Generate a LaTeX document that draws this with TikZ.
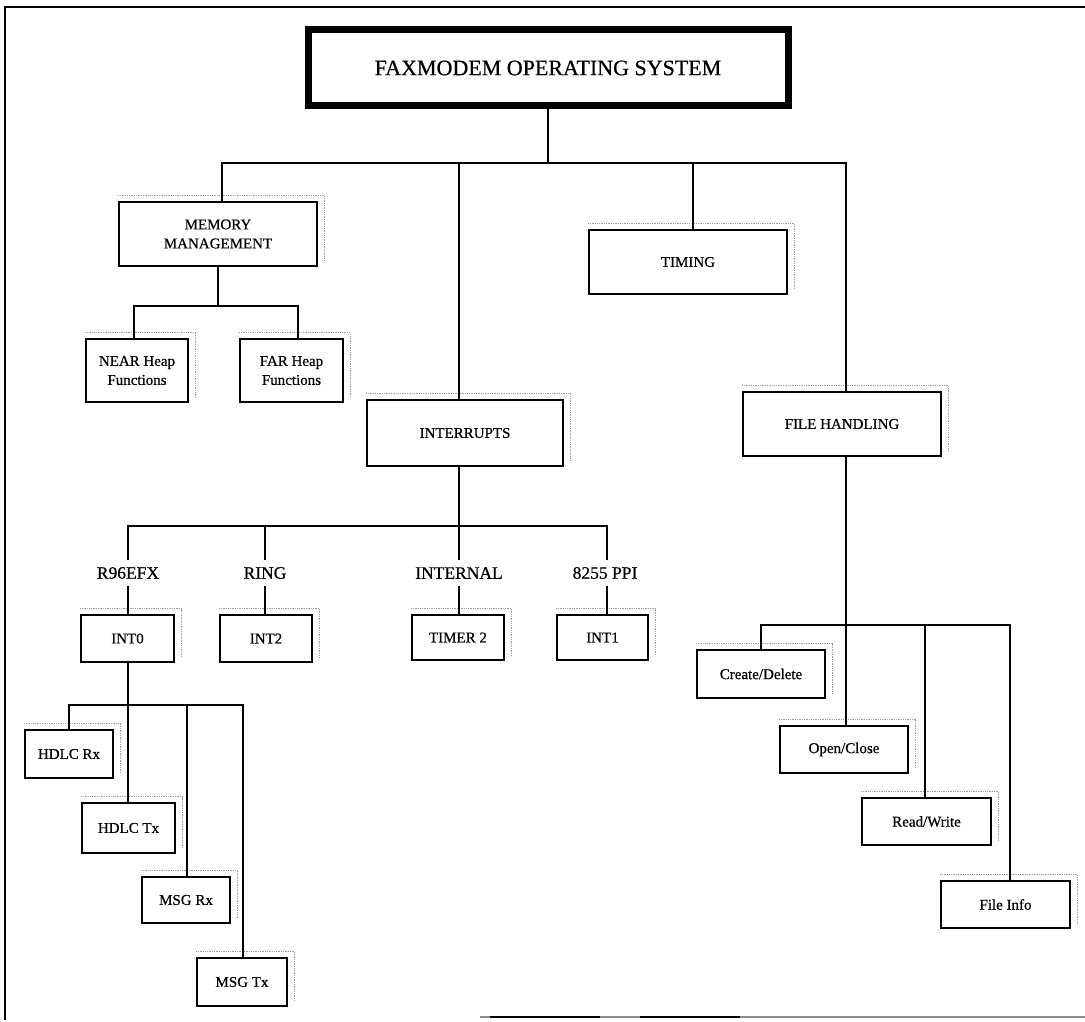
\documentclass[tikz,border=0pt]{standalone}
\usepackage{fontspec}
\setmainfont{Liberation Serif}[FakeBold=0.6]
\begin{document}
\begin{tikzpicture}[x=1pt,y=-1pt,
  box/.style={draw, line width=2.8pt, inner sep=0pt, align=center,
              font=\fontsize{15}{19}\selectfont},
  titlebox/.style={draw, line width=7pt, inner sep=0pt,
              font=\fontsize{22}{26}\selectfont},
  lbl/.style={inner sep=0pt, minimum height=25pt,
              font=\fontsize{17.5}{20}\selectfont},
  wire/.style={line width=2.6pt},
  halo/.style={draw=black!38, line width=1.3pt, densely dotted},
  frame/.style={line width=1.8pt}]

\useasboundingbox (0,0) rectangle (1085,1022);

% page frame
\draw[frame] (1085,7) -- (5,7) -- (5,1020);
\draw[frame, black!45] (480,1017) -- (1085,1017);
\draw[frame] (490,1017) -- (600,1017) (640,1017) -- (740,1017);

% title
\node[titlebox, minimum width=480pt, minimum height=76pt] (title) at (548,68)
  {FAXMODEM OPERATING SYSTEM};

% first level
\node[box, minimum width=198pt, minimum height=64pt] (mm)  at (218,234) {MEMORY\\MANAGEMENT};
\node[box, minimum width=198pt, minimum height=64pt] (tim) at (688,262) {TIMING};
\node[box, minimum width=196pt, minimum height=66pt] (int) at (465,433) {INTERRUPTS};
\node[box, minimum width=198pt, minimum height=64pt] (fh)  at (842,424) {FILE HANDLING};

% memory management
\node[box, minimum width=102pt, minimum height=63pt] (near) at (137,370.5) {NEAR Heap\\Functions};
\node[box, minimum width=103pt, minimum height=63pt] (far)  at (291.5,370.5) {FAR Heap\\Functions};

% interrupt sources
\node[lbl] (r96)      at (128,573) {R96EFX};
\node[lbl] (ring)     at (265,573) {RING};
\node[lbl] (internal) at (459,573) {INTERNAL};
\node[lbl] (ppi)      at (605,573) {8255 PPI};

\node[box, minimum width=93pt, minimum height=47pt] (int0) at (127.5,638.5) {INT0};
\node[box, minimum width=92pt, minimum height=47pt] (int2) at (266,638.5) {INT2};
\node[box, minimum width=92pt, minimum height=45pt] (tmr)  at (458,637.5) {TIMER 2};
\node[box, minimum width=91pt, minimum height=45pt] (int1) at (602.5,637.5) {INT1};

% INT0 handlers
\node[box, minimum width=88pt, minimum height=48pt] (hrx) at (69,754) {HDLC Rx};
\node[box, minimum width=93pt, minimum height=50pt] (htx) at (128.5,828) {HDLC Tx};
\node[box, minimum width=88pt, minimum height=46pt] (mrx) at (186,900) {MSG Rx};
\node[box, minimum width=90pt, minimum height=48pt] (mtx) at (242,982) {MSG Tx};

% file handling
\node[box, minimum width=128pt, minimum height=48pt] (cd) at (761,674) {Create/Delete};
\node[box, minimum width=128pt, minimum height=47pt] (oc) at (844,749.5) {Open/Close};
\node[box, minimum width=129pt, minimum height=47pt] (rw) at (926.5,821.5) {Read/Write};
\node[box, minimum width=129pt, minimum height=47pt] (fi) at (1005.5,904.5) {File Info};

% faint copy halo along the top and right of each box
\foreach \n in {mm,tim,int,fh,near,far,int0,int2,tmr,int1,hrx,htx,mrx,mtx,cd,oc,rw,fi}
  \draw[halo] ([shift={(0,-5)}]\n.north west) -- ([shift={(6,-5)}]\n.north east)
              -- ([shift={(6,-6)}]\n.south east);

% bus junctions
\coordinate (t1) at (222,163); \coordinate (t2) at (459,163);
\coordinate (t3) at (693,163); \coordinate (t4) at (846,163);
\coordinate (jn) at (134,306); \coordinate (jf) at (298,306);
\coordinate (i1) at (128,526); \coordinate (i2) at (265,526);
\coordinate (i3) at (459,526); \coordinate (i4) at (607,526);
\coordinate (c1) at (69,705);  \coordinate (c2) at (128,705);
\coordinate (c3) at (187,705); \coordinate (c4) at (243,705);
\coordinate (f1) at (761,625); \coordinate (f2) at (846,625);
\coordinate (f3) at (925,625); \coordinate (f4) at (1010,625);

% top level
\draw[wire] (title.south) -- (title.south |- t1);
\draw[wire] (t1 |- mm.north) -- (t1) -- (t4) -- (t4 |- fh.north);
\draw[wire] (t2) -- (t2 |- int.north);
\draw[wire] (t3) -- (t3 |- tim.north);

% memory management
\draw[wire] (mm.south) -- (mm.south |- jn);
\draw[wire] (jn |- near.north) -- (jn) -- (jf) -- (jf |- far.north);

% interrupts
\draw[wire] (int.south -| i3) -- (i3);
\draw[wire] (i1 |- r96.north) -- (i1) -- (i4) -- (i4 |- ppi.north);
\draw[wire] (i2) -- (i2 |- ring.north);
\draw[wire] (i3) -- (i3 |- internal.north);
\draw[wire] (i1 |- r96.south) -- (i1 |- int0.north);
\draw[wire] (i2 |- ring.south) -- (i2 |- int2.north);
\draw[wire] (i3 |- internal.south) -- (i3 |- tmr.north);
\draw[wire] (i4 |- ppi.south) -- (i4 |- int1.north);

% INT0 handlers
\draw[wire] (c1 |- hrx.north) -- (c1) -- (c4) -- (c4 |- mtx.north);
\draw[wire] (int0.south -| c2) -- (c2 |- htx.north);
\draw[wire] (c3) -- (c3 |- mrx.north);

% file handling
\draw[wire] (fh.south -| f2) -- (f2 |- oc.north);
\draw[wire] (f1 |- cd.north) -- (f1) -- (f4) -- (f4 |- fi.north);
\draw[wire] (f3) -- (f3 |- rw.north);

\end{tikzpicture}
\end{document}
